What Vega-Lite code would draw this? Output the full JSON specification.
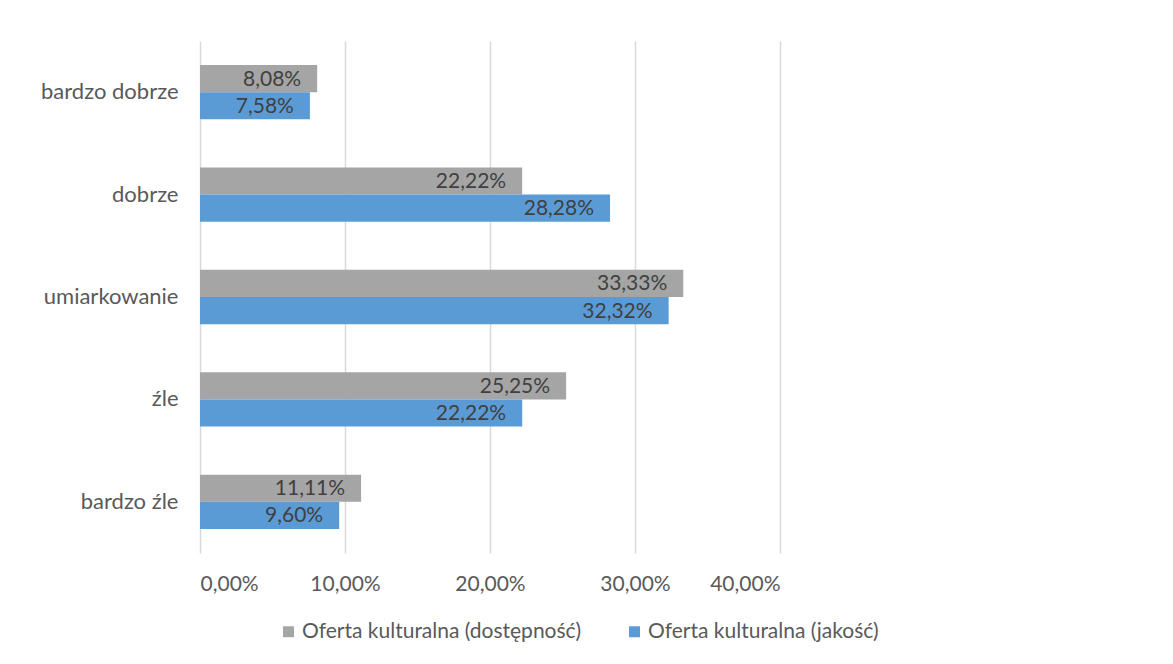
{
  "$schema": "https://vega.github.io/schema/vega-lite/v6.json",
  "autosize": "none",
  "width": 580,
  "height": 512,
  "padding": {"left": 200, "top": 41, "right": 393, "bottom": 111},
  "background": "white",
  "config": {
    "locale": {"number": {"decimal": ",", "thousands": " ", "grouping": [3], "currency": ["", " zł"]}},
    "view": {"stroke": null},
    "font": "Lato"
  },
  "data": {
    "values": [
      {"kategoria": "bardzo dobrze", "seria": "Oferta kulturalna (dostępność)", "wartosc": 0.0808},
      {"kategoria": "bardzo dobrze", "seria": "Oferta kulturalna (jakość)", "wartosc": 0.0758},
      {"kategoria": "dobrze", "seria": "Oferta kulturalna (dostępność)", "wartosc": 0.2222},
      {"kategoria": "dobrze", "seria": "Oferta kulturalna (jakość)", "wartosc": 0.2828},
      {"kategoria": "umiarkowanie", "seria": "Oferta kulturalna (dostępność)", "wartosc": 0.3333},
      {"kategoria": "umiarkowanie", "seria": "Oferta kulturalna (jakość)", "wartosc": 0.3232},
      {"kategoria": "źle", "seria": "Oferta kulturalna (dostępność)", "wartosc": 0.2525},
      {"kategoria": "źle", "seria": "Oferta kulturalna (jakość)", "wartosc": 0.2222},
      {"kategoria": "bardzo źle", "seria": "Oferta kulturalna (dostępność)", "wartosc": 0.1111},
      {"kategoria": "bardzo źle", "seria": "Oferta kulturalna (jakość)", "wartosc": 0.0960}
    ]
  },
  "encoding": {
    "y": {
      "field": "kategoria", "type": "nominal",
      "sort": ["bardzo dobrze", "dobrze", "umiarkowanie", "źle", "bardzo źle"],
      "scale": {"paddingInner": 0.47, "paddingOuter": 0.235},
      "axis": {"title": null, "domain": false, "ticks": false, "labelPadding": 22, "labelFontSize": 22, "labelColor": "#595959", "labelFont": "Lato", "labelLimit": 0}
    },
    "yOffset": {
      "field": "seria", "type": "nominal",
      "sort": ["Oferta kulturalna (dostępność)", "Oferta kulturalna (jakość)"],
      "scale": {"paddingInner": 0, "paddingOuter": 0}
    },
    "x": {
      "field": "wartosc", "type": "quantitative",
      "scale": {"domain": [0, 0.4], "nice": false},
      "axis": {"title": null, "format": ".2%", "values": [0, 0.1, 0.2, 0.3, 0.4], "domain": false, "ticks": false, "grid": true, "gridColor": "#D9D9D9", "gridWidth": 1.5, "labelPadding": 20, "labelFontSize": 21, "labelColor": "#595959", "labelFont": "Lato"}
    }
  },
  "layer": [
    {
      "mark": {"type": "bar"},
      "encoding": {
        "color": {
          "field": "seria", "type": "nominal",
          "sort": ["Oferta kulturalna (dostępność)", "Oferta kulturalna (jakość)"],
          "scale": {"range": ["#A5A5A5", "#5B9BD5"]},
          "legend": {
            "title": null, "orient": "none", "direction": "horizontal",
            "legendX": 78, "legendY": 580,
            "symbolType": "square", "symbolSize": 120, "symbolStrokeWidth": 0,
            "labelFontSize": 21, "labelColor": "#595959", "labelFont": "Lato",
            "labelLimit": 0, "labelOffset": 3, "columnPadding": 42
          }
        }
      }
    },
    {
      "mark": {"type": "text", "align": "right", "baseline": "middle", "dx": -16, "dy": 1, "fontSize": 21, "color": "#404040", "font": "Lato"},
      "encoding": {
        "text": {"field": "wartosc", "type": "quantitative", "format": ".2%"}
      }
    }
  ]
}
